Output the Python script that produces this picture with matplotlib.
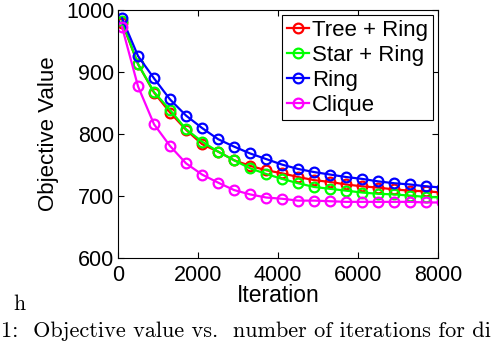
"""
objective value vs iteration for different topologies
"""

import matplotlib
matplotlib.use("agg")
import matplotlib.pyplot as plt

iterations = [100, 500, 900, 1300, 1700, 2100, 2500, 2900, 3300, 3700,
              4100, 4500, 4900, 5300, 5700, 6100, 6500, 6900, 7300, 7700, 8100]

tree_ring = [979, 912, 866, 834, 806, 783, 771, 757, 748, 741,
             736, 730, 725, 722, 718, 715, 713, 710, 708, 707, 705]
star_ring = [981, 912, 867, 838, 807, 787, 771, 757, 744, 735,
             727, 720, 714, 711, 708, 705, 703, 702, 700, 698, 697]
ring = [986, 925, 889, 855, 829, 809, 791, 779, 768, 759,
        750, 743, 738, 734, 730, 727, 723, 720, 718, 715, 713]
clique = [972, 876, 815, 780, 752, 734, 721, 709, 702, 697,
          695, 692, 692, 691, 690, 690, 690, 690, 690, 689, 689]

series = [("Tree + Ring", tree_ring, "#ff0000"),
          ("Star + Ring", star_ring, "#00ff00"),
          ("Ring", ring, "#0000ff"),
          ("Clique", clique, "#ff00ff")]

xticks = [0, 2000, 4000, 6000, 8000]
yticks = [600, 700, 800, 900, 1000]

caption = '1:  Objective value vs.  number of iterations for di'


def main():
    """ main """
    plt.rcParams['font.family'] = ['Liberation Sans', 'DejaVu Sans']
    fig = plt.figure(figsize=(4.98, 3.42), dpi=100)
    ax = fig.add_axes([0.237, 0.2465, 0.643, 0.7257])

    for name, vals, col in series:
        ax.plot(iterations, vals, '-o', color=col, label=name, lw=1.6,
                markersize=7, markerfacecolor='none', markeredgewidth=1.6)

    ax.set_xlim(0, 8000)
    ax.set_ylim(600, 1000)
    ax.set_xticks(xticks)
    ax.set_yticks(yticks)
    ax.tick_params(direction='in', top=True, right=True, length=4,
                   labelsize=15.5, width=0.8)
    ax.tick_params(axis='x', pad=5)
    ax.tick_params(axis='y', pad=2.5)
    for sp in ax.spines.values():
        sp.set_linewidth(0.8)
    ax.set_xlabel('Iteration', fontsize=16.5, labelpad=-1)
    ax.set_ylabel('Objective Value', fontsize=16, labelpad=5)

    leg = ax.legend(loc='upper right', fontsize=16, fancybox=False,
                    edgecolor='black', framealpha=1, handlelength=1.0,
                    handletextpad=0.15, borderpad=0.2, labelspacing=0.18,
                    borderaxespad=0.25)
    leg.get_frame().set_linewidth(0.8)

    fig.text(0.026, 1 - 310 / 342, 'h', fontsize=15.5, family='cmr10',
             va='baseline')
    fig.text(0.002, 1 - 337 / 342, caption, fontsize=16, family='cmr10',
             va='baseline')

    fig.savefig("out.png", dpi=100)


if __name__ == "__main__":
    main()
